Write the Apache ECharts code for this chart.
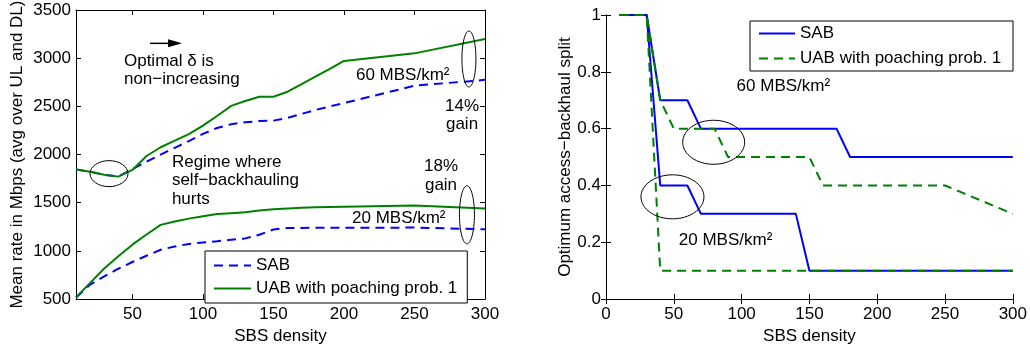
<!DOCTYPE html>
<html>
<head>
<meta charset="utf-8">
<script src="https://cdn.jsdelivr.net/npm/echarts@6/dist/echarts.min.js"></script>
<style>
  html, body { margin: 0; padding: 0; background: #fff; }
  #chart { width: 1030px; height: 350px; }
</style>
</head>
<body>
<div id="chart"></div>
<script>
// left panel: mean rate vs SBS density
const rateX = [10, 20, 30, 40, 50, 60, 70, 80, 90, 100, 110, 120, 130, 140, 150, 160, 170, 180, 190, 200, 250, 300];
const sab60 = [1845, 1822, 1790, 1771, 1850, 1925, 2000, 2070, 2140, 2215, 2275, 2315, 2335, 2348, 2352, 2380, 2422, 2463, 2500, 2534, 2714, 2775];
const uab60 = [1845, 1822, 1790, 1771, 1840, 1985, 2076, 2144, 2212, 2300, 2400, 2505, 2555, 2600, 2600, 2652, 2732, 2811, 2890, 2972, 3050, 3200];
const sab20 = [517, 650, 735, 815, 885, 950, 1012, 1046, 1072, 1088, 1100, 1115, 1130, 1168, 1222, 1238, 1239, 1240, 1240, 1240, 1242, 1225];
const uab20 = [517, 668, 818, 945, 1065, 1170, 1270, 1305, 1335, 1360, 1382, 1392, 1402, 1420, 1432, 1440, 1447, 1452, 1455, 1458, 1472, 1440];
const rateTicks = [50, 100, 150, 200, 250, 300];

// right panel: optimum access-backhaul split
const splitX = [10, 20, 30, 40, 50, 60, 70, 80, 90, 100, 110, 120, 130, 140, 150, 160, 170, 180, 190, 200, 210, 220, 230, 240, 250, 260, 270, 280, 290, 300];
const splitSab60 = [1, 1, 1, 0.7, 0.7, 0.7, 0.6, 0.6, 0.6, 0.6, 0.6, 0.6, 0.6, 0.6, 0.6, 0.6, 0.6, 0.5, 0.5, 0.5, 0.5, 0.5, 0.5, 0.5, 0.5, 0.5, 0.5, 0.5, 0.5, 0.5];
const splitUab60 = [1, 1, 1, 0.7, 0.6, 0.6, 0.6, 0.6, 0.5, 0.5, 0.5, 0.5, 0.5, 0.5, 0.5, 0.4, 0.4, 0.4, 0.4, 0.4, 0.4, 0.4, 0.4, 0.4, 0.4, 0.38, 0.36, 0.34, 0.32, 0.3];
const splitSab20 = [1, 1, 1, 0.4, 0.4, 0.4, 0.3, 0.3, 0.3, 0.3, 0.3, 0.3, 0.3, 0.3, 0.1, 0.1, 0.1, 0.1, 0.1, 0.1, 0.1, 0.1, 0.1, 0.1, 0.1, 0.1, 0.1, 0.1, 0.1, 0.1];
const splitUab20 = [1, 1, 1, 0.1, 0.1, 0.1, 0.1, 0.1, 0.1, 0.1, 0.1, 0.1, 0.1, 0.1, 0.1, 0.1, 0.1, 0.1, 0.1, 0.1, 0.1, 0.1, 0.1, 0.1, 0.1, 0.1, 0.1, 0.1, 0.1, 0.1];

// annotations, in data coordinates
const leftNotes = [
  { text: 'Optimal δ is', at: [44, 2971], align: 'left' },
  { text: 'non−increasing', at: [44, 2778], align: 'left' },
  { text: '60 MBS/km²', at: [208.5, 2819], align: 'left' },
  { text: '14%', at: [283.7, 2503], align: 'center' },
  { text: 'gain', at: [283.7, 2310], align: 'center' },
  { text: '18%', at: [268.8, 1873], align: 'center' },
  { text: 'gain', at: [268.8, 1680], align: 'center' },
  { text: 'Regime where', at: [78, 1924], align: 'left' },
  { text: 'self−backhauling', at: [78, 1731], align: 'left' },
  { text: 'hurts', at: [78, 1537], align: 'left' },
  { text: '20 MBS/km²', at: [205.7, 1334], align: 'left' },
];
const leftRings = [
  { at: [33.4, 1802], rx: 19, ry: 13 },
  { at: [288.6, 2992], rx: 7, ry: 28 },
  { at: [287.2, 1375], rx: 7.5, ry: 29 },
];
const leftArrow = { from: [62.5, 3154], to: [85.2, 3154] };
const rightNotes = [
  { text: '60 MBS/km²', at: [96.3, 0.749], align: 'left' },
  { text: '20 MBS/km²', at: [53.7, 0.206], align: 'left' },
];
const rightRings = [
  { at: [79.4, 0.552], rx: 31, ry: 22 },
  { at: [49, 0.36], rx: 31.5, ry: 22 },
];

const FONT = '"Liberation Sans", Arial, sans-serif';
const BLUE = '#0000ff';
const GREEN = '#008000';
const pairs = (xs, ys) => xs.map((x, i) => [x, ys[i]]);

const label = { color: '#000', fontSize: 17, fontFamily: FONT };
const line = { lineStyle: { color: '#000', width: 1 } };
const plain = (v) => String(v);

function boxAxes(gridIndex, min, max, interval, xTicks) {
  const tickX = xTicks ? { customValues: xTicks } : {};
  return [
    {
      type: 'value', gridIndex, min, max, interval, position: 'bottom',
      axisLine: line, splitLine: { show: false },
      axisTick: Object.assign({ inside: true, length: 5, lineStyle: { color: '#000' } }, tickX),
      axisLabel: Object.assign({ margin: 7, formatter: plain }, label, tickX),
      name: 'SBS density', nameLocation: 'middle', nameGap: 24,
      nameTextStyle: label,
    },
    {
      type: 'value', gridIndex, min, max, interval, position: 'top',
      axisLine: line, splitLine: { show: false },
      axisTick: Object.assign({ inside: true, length: 5, lineStyle: { color: '#000' } }, tickX),
      axisLabel: { show: false },
    },
  ];
}

const chart = echarts.init(document.getElementById('chart'), null, { renderer: 'canvas' });

const yLeft = (pos, show) => ({
  type: 'value', gridIndex: 0, min: 500, max: 3500, interval: 500, position: pos,
  axisLine: line, splitLine: { show: false },
  axisTick: { inside: true, length: 5, lineStyle: { color: '#000' } },
  axisLabel: Object.assign({ show, margin: 5, formatter: plain }, label),
  name: show ? 'Mean rate in Mbps (avg over UL and DL)' : '',
  nameLocation: 'middle', nameGap: 50, nameTextStyle: label,
});
const yRight = (pos, show) => ({
  type: 'value', gridIndex: 1, min: 0, max: 1, interval: 0.2, position: pos,
  axisLine: line, splitLine: { show: false },
  axisTick: { inside: true, length: 5, lineStyle: { color: '#000' } },
  axisLabel: Object.assign({ show, margin: 5 }, label),
  name: show ? 'Optimum access−backhaul split' : '',
  nameLocation: 'middle', nameGap: 24, nameTextStyle: label,
});

const series = (name, xi, yi, data, color, dashed) => ({
  name, type: 'line', xAxisIndex: xi, yAxisIndex: yi, data,
  symbol: 'none', animation: false,
  lineStyle: { color, width: 2, type: dashed ? [9, 6] : 'solid' },
  itemStyle: { color },
});

const legendBase = {
  orient: 'vertical', itemWidth: 37, itemHeight: 14,
  borderColor: '#000', borderWidth: 1, backgroundColor: '#fff',
  textStyle: label, selectedMode: false,
  itemStyle: { opacity: 0 },
};

chart.setOption({
  animation: false,
  textStyle: { fontFamily: FONT },
  grid: [
    { left: 76, top: 10, width: 409, height: 295 },
    { left: 606, top: 15, width: 408, height: 291 },
  ],
  xAxis: boxAxes(0, 10, 300, null, rateTicks).concat(boxAxes(1, 0, 300, 50, null)),
  yAxis: [yLeft('left', true), yLeft('right', false), yRight('left', true), yRight('right', false)],
  legend: [
    Object.assign({}, legendBase, {
      data: ['SAB', 'UAB with poaching prob. 1'],
      left: 205, top: 251, padding: [6, 10, 6, 8], itemGap: 6,
    }),
    Object.assign({}, legendBase, {
      data: ['SAB ', 'UAB with poaching prob. 1 '],
      left: 750, top: 21, padding: [4, 7, 4, 8], itemGap: 8, itemWidth: 36,
    }),
  ],
  series: [
    series('SAB', 0, 0, pairs(rateX, sab60), BLUE, true),
    series('SAB', 0, 0, pairs(rateX, sab20), BLUE, true),
    series('UAB with poaching prob. 1', 0, 0, pairs(rateX, uab60), GREEN, false),
    series('UAB with poaching prob. 1', 0, 0, pairs(rateX, uab20), GREEN, false),
    series('SAB ', 2, 2, pairs(splitX, splitSab60), BLUE, false),
    series('SAB ', 2, 2, pairs(splitX, splitSab20), BLUE, false),
    series('UAB with poaching prob. 1 ', 2, 2, pairs(splitX, splitUab60), GREEN, true),
    series('UAB with poaching prob. 1 ', 2, 2, pairs(splitX, splitUab20), GREEN, true),
  ],
});

// annotations placed through the axes
const graphics = [];
function addNotes(seriesIndex, notes, rings) {
  notes.forEach((n) => {
    const p = chart.convertToPixel({ seriesIndex }, n.at);
    graphics.push({
      type: 'text', x: p[0], y: p[1], z: 100,
      style: { text: n.text, fontSize: 17, fontFamily: FONT, fill: '#000', align: n.align, verticalAlign: 'middle' },
    });
  });
  rings.forEach((r) => {
    const p = chart.convertToPixel({ seriesIndex }, r.at);
    graphics.push({
      type: 'ellipse', z: 100,
      shape: { cx: p[0], cy: p[1], rx: r.rx, ry: r.ry },
      style: { fill: 'none', stroke: '#000', lineWidth: 1 },
    });
  });
}
addNotes(0, leftNotes, leftRings);
addNotes(4, rightNotes, rightRings);

const a0 = chart.convertToPixel({ seriesIndex: 0 }, leftArrow.from);
const a1 = chart.convertToPixel({ seriesIndex: 0 }, leftArrow.to);
graphics.push({
  type: 'line', z: 100,
  shape: { x1: a0[0], y1: a0[1], x2: a1[0] - 4, y2: a1[1] },
  style: { stroke: '#000', lineWidth: 1.5 },
});
graphics.push({
  type: 'polygon', z: 100,
  shape: { points: [[a1[0], a1[1]], [a1[0] - 14, a1[1] - 4], [a1[0] - 14, a1[1] + 4]] },
  style: { fill: '#000' },
});

chart.setOption({ graphic: graphics });
</script>
</body>
</html>
